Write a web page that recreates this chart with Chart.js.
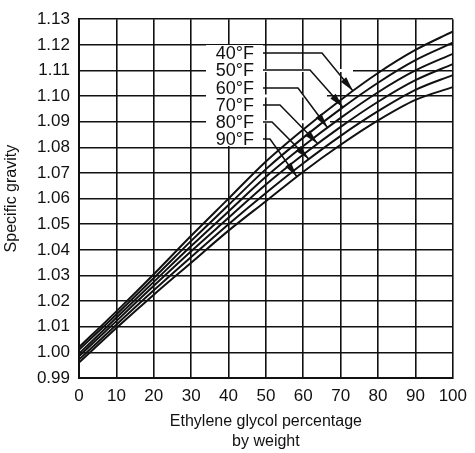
<!DOCTYPE html>
<html>
<head>
<meta charset="utf-8">
<script src="https://cdn.jsdelivr.net/npm/chart.js@4.4.1/dist/chart.umd.min.js"></script>
<style>
  html, body { margin: 0; padding: 0; background: #fff; }
  #chartBox { width: 475px; height: 453px; }
</style>
</head>
<body>
<div id="chartBox"><canvas id="sgChart" width="475" height="453"></canvas></div>
<script>
// ethylene glycol % by weight
const glycolPct = [0, 10, 20, 30, 40, 50, 60, 70, 80, 90, 100];

// specific gravity, one array per temperature
const sg40F = [1.0020, 1.0160, 1.0305, 1.0455, 1.0600, 1.0745, 1.0870, 1.0985, 1.1090, 1.1180, 1.1252];
const sg50F = [1.0010, 1.0148, 1.0290, 1.0435, 1.0575, 1.0715, 1.0838, 1.0950, 1.1052, 1.1140, 1.1208];
const sg60F = [0.9995, 1.0135, 1.0275, 1.0415, 1.0550, 1.0685, 1.0805, 1.0915, 1.1015, 1.1100, 1.1165];
const sg70F = [0.9985, 1.0122, 1.0260, 1.0395, 1.0525, 1.0655, 1.0772, 1.0880, 1.0978, 1.1062, 1.1125];
const sg80F = [0.9972, 1.0108, 1.0242, 1.0372, 1.0500, 1.0622, 1.0738, 1.0845, 1.0941, 1.1024, 1.1082];
const sg90F = [0.9960, 1.0095, 1.0225, 1.0350, 1.0475, 1.0590, 1.0705, 1.0810, 1.0905, 1.0985, 1.1035];

const tempLabels = ["40°F", "50°F", "60°F", "70°F", "80°F", "90°F"];
const allSeries = [sg40F, sg50F, sg60F, sg70F, sg80F, sg90F];

// where each leader arrow lands on its curve (glycol %)
const arrowTargetPct = [73.3, 70.6, 66.5, 63.9, 61.5, 58.3];

// label layout (pixels)
const labelRowY = [53, 70, 88, 105, 122, 139];
const leaderBendX = [322, 310, 298, 280, 272, 270];
const labelRightX = 254;

const FONT = '"Liberation Sans", Arial, sans-serif';
const INK = "#111";

function curveAt(series, pct) {
  for (let i = 0; i < glycolPct.length - 1; i++) {
    const a = glycolPct[i], b = glycolPct[i + 1];
    if (pct >= a && pct <= b) {
      const t = (pct - a) / (b - a);
      return series[i] + t * (series[i + 1] - series[i]);
    }
  }
  return series[series.length - 1];
}

// white-out behind the labels and a few gridline pieces, like the original drawing
const maskPlugin = {
  id: "labelMask",
  beforeDatasetsDraw(chart) {
    const { ctx, scales } = chart;
    const y = scales.y;
    ctx.save();
    ctx.fillStyle = "#fff";
    ctx.fillRect(206, 45, 57, 101);
    ctx.strokeStyle = "#fff";
    ctx.lineWidth = 3;
    const gaps = [[1.11, 353], [1.10, 327], [1.09, 330]];
    gaps.forEach(([val, x2]) => {
      const py = y.getPixelForValue(val);
      ctx.beginPath();
      ctx.moveTo(262, py);
      ctx.lineTo(x2, py);
      ctx.stroke();
    });
    ctx.restore();
  },
  afterDatasetsDraw(chart) {
    const { ctx, scales } = chart;
    ctx.save();
    ctx.font = `18px ${FONT}`;
    ctx.fillStyle = INK;
    ctx.strokeStyle = INK;
    ctx.textAlign = "right";
    ctx.textBaseline = "middle";
    tempLabels.forEach((label, i) => {
      const rowY = labelRowY[i];
      ctx.fillText(label, labelRightX, rowY + 1);

      const tipX = scales.x.getPixelForValue(arrowTargetPct[i]);
      const tipY = scales.y.getPixelForValue(curveAt(allSeries[i], arrowTargetPct[i]));
      const bendX = leaderBendX[i];

      ctx.lineWidth = 1.5;
      ctx.beginPath();
      ctx.moveTo(labelRightX + 9, rowY);
      ctx.lineTo(bendX, rowY);
      ctx.lineTo(tipX, tipY);
      ctx.stroke();

      // arrow head
      const ang = Math.atan2(tipY - rowY, tipX - bendX);
      const len = 15, half = 3.5;
      ctx.beginPath();
      ctx.moveTo(tipX, tipY);
      ctx.lineTo(tipX - len * Math.cos(ang) + half * Math.sin(ang), tipY - len * Math.sin(ang) - half * Math.cos(ang));
      ctx.lineTo(tipX - len * Math.cos(ang) - half * Math.sin(ang), tipY - len * Math.sin(ang) + half * Math.cos(ang));
      ctx.closePath();
      ctx.fill();
    });
    ctx.restore();
  },
};

const datasets = allSeries.map((series, i) => ({
  label: tempLabels[i],
  data: glycolPct.map((pct, j) => ({ x: pct, y: series[j] })),
  borderColor: INK,
  borderWidth: 2,
  pointRadius: 0,
  fill: false,
  cubicInterpolationMode: "monotone",
}));

new Chart(document.getElementById("sgChart"), {
  type: "line",
  data: { datasets },
  options: {
    responsive: false,
    animation: false,
    devicePixelRatio: 1,
    layout: { padding: { top: 17, right: 17, left: 0, bottom: 0 } },
    plugins: {
      legend: { display: false },
      tooltip: { enabled: false },
    },
    scales: {
      x: {
        type: "linear",
        min: 0,
        max: 100,
        afterFit: (s) => { s.height = 75; },
        ticks: {
          stepSize: 10,
          padding: 8,
          color: INK,
          font: { family: FONT, size: 17 },
          maxRotation: 0,
        },
        grid: { color: INK, lineWidth: 1.6, drawTicks: false },
        border: { color: INK, width: 2 },
        title: {
          display: true,
          text: ["Ethylene glycol percentage", "by weight"],
          color: INK,
          font: { family: FONT, size: 16, lineHeight: "20px" },
          padding: { top: 0, bottom: 1 },
        },
      },
      y: {
        type: "linear",
        min: 0.99,
        max: 1.13,
        afterFit: (s) => { s.width = 79; },
        ticks: {
          stepSize: 0.01,
          padding: 9,
          color: INK,
          font: { family: FONT, size: 17 },
          callback: (v) => Number(v).toFixed(2),
        },
        grid: { color: INK, lineWidth: 1.6, drawTicks: false },
        border: { color: INK, width: 2 },
        title: {
          display: true,
          text: "Specific gravity",
          color: INK,
          font: { family: FONT, size: 16, lineHeight: "20px" },
          padding: { top: 2, bottom: 0 },
        },
      },
    },
  },
  plugins: [maskPlugin],
});
</script>
</body>
</html>
